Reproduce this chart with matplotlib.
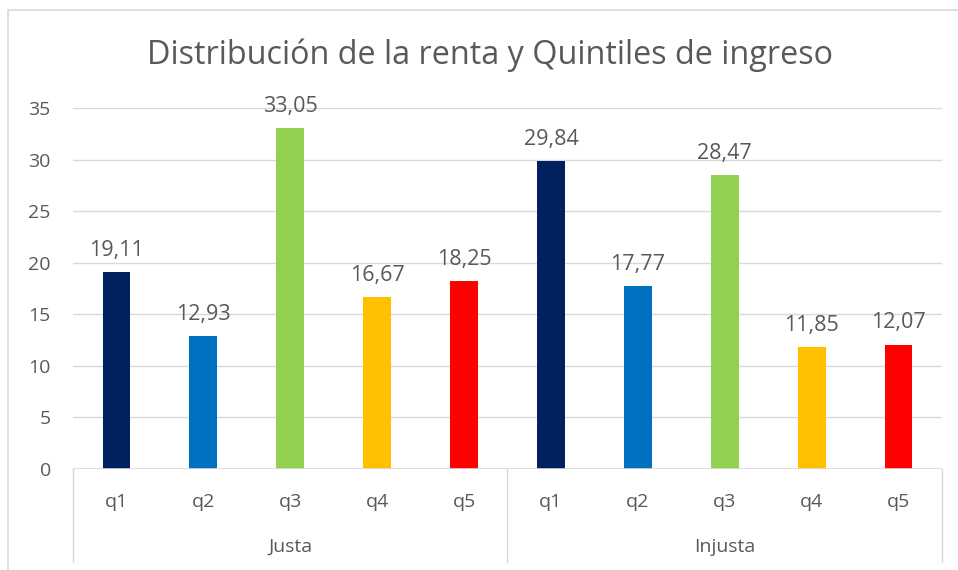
import matplotlib.pyplot as plt
import matplotlib.transforms as mtransforms
from matplotlib.patches import Rectangle

plt.rcParams['font.family'] = ['Open Sans', 'DejaVu Sans']

groups = ['Justa', 'Injusta']
quintiles = ['q1', 'q2', 'q3', 'q4', 'q5']
justa = [19.11, 12.93, 33.05, 16.67, 18.25]
injusta = [29.84, 17.77, 28.47, 11.85, 12.07]
colors = ['#002060', '#0070C0', '#92D050', '#FFC000', '#FF0000']

txt = '#595959'
grid = '#d9d9d9'

values = justa + injusta
xs = list(range(len(values)))
bar_colors = colors * 2

fig = plt.figure(figsize=(9.58, 5.70), dpi=100)
fig.patches.append(Rectangle((8 / 958, -0.1), 1.2, 1 - 10 / 570 + 0.1,
                             transform=fig.transFigure, fill=False,
                             edgecolor='#d9d9d9', lw=1.2))
ax = fig.add_axes([73 / 958, 1 - 469 / 570, 869 / 958, 361 / 570])

ax.bar(xs, values, width=0.32, color=bar_colors, zorder=3)
for x, v in zip(xs, values):
    ax.annotate(f'{v:.2f}'.replace('.', ','), (x, v), xytext=(0, 8),
                textcoords='offset points', ha='center', va='bottom',
                fontsize=15.5, color=txt)

ax.set_xlim(-0.5, len(values) - 0.5)
ax.set_ylim(0, 35)
ax.set_yticks(range(0, 36, 5))
ax.tick_params(axis='y', length=0, labelsize=14, labelcolor=txt, pad=16)
ax.set_xticks([])
ax.grid(axis='y', color=grid, lw=1, zorder=0)
for s in ax.spines.values():
    s.set_visible(False)
ax.axhline(0, color=grid, lw=1.2, zorder=4)

# two-level category axis
trans = mtransforms.blended_transform_factory(ax.transData, ax.transAxes)
for x, q in zip(xs, quintiles * 2):
    ax.text(x, -0.092, q, transform=trans, ha='center', va='center',
            fontsize=14, color=txt)
for i, g in enumerate(groups):
    ax.text(i * 5 + 2, -0.216, g, transform=trans, ha='center', va='center',
            fontsize=14, color=txt)
for sx in [-0.5, 4.5, 9.5]:
    ax.plot([sx, sx], [0, -0.258], transform=trans, color=grid, lw=1,
            clip_on=False)

fig.text(490 / 958, 1 - 55 / 570, 'Distribución de la renta y Quintiles de ingreso',
         ha='center', va='center', fontsize=23.3, color=txt)

fig.savefig('out.png', dpi=100)
